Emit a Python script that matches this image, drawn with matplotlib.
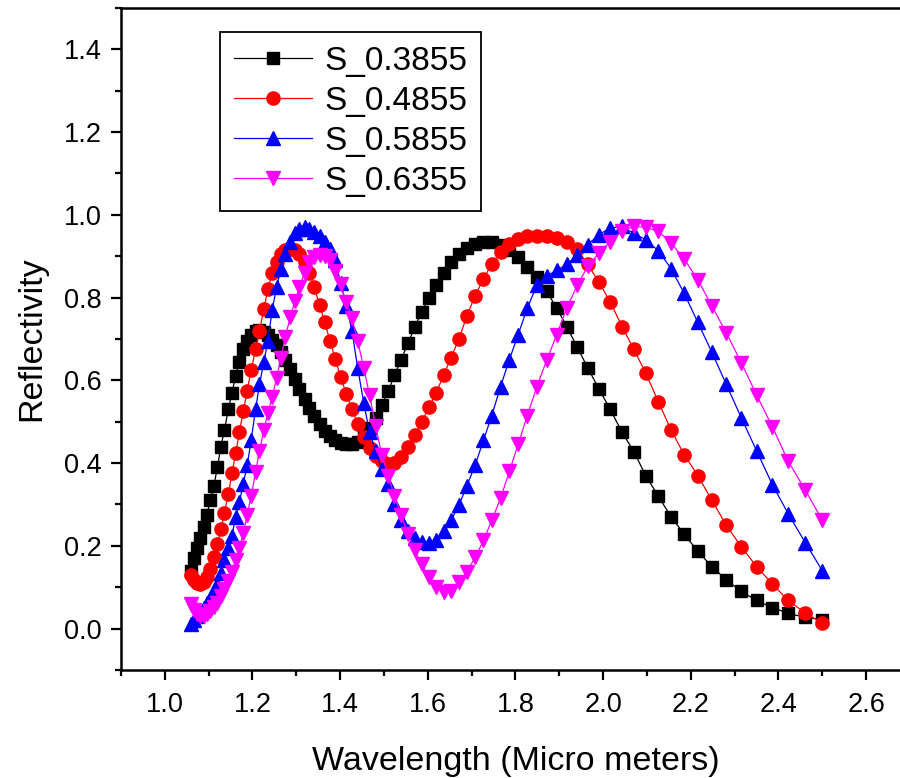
'''reflectividade x comprimento de onda para 4 estruturas'''

import numpy as np
import matplotlib
matplotlib.use('Agg')
import matplotlib.pyplot as plt
from matplotlib.ticker import MultipleLocator

plt.rcParams['font.family'] = ['Liberation Sans', 'DejaVu Sans']

# comprimento de onda (micrometros), comum as 4 curvas
wavelength = [
    1.059, 1.067, 1.074, 1.081, 1.089, 1.096, 1.104, 1.112, 1.120, 1.128,
    1.136, 1.145, 1.153, 1.162, 1.170, 1.179, 1.188, 1.197, 1.207, 1.216,
    1.226, 1.235, 1.245, 1.255, 1.265, 1.275, 1.286, 1.297, 1.307, 1.319,
    1.330, 1.341, 1.353, 1.365, 1.377, 1.389, 1.401, 1.414, 1.427, 1.440,
    1.454, 1.467, 1.481, 1.495, 1.510, 1.524, 1.539, 1.555, 1.570, 1.586,
    1.603, 1.619, 1.636, 1.653, 1.671, 1.689, 1.708, 1.727, 1.746, 1.766,
    1.786, 1.806, 1.827, 1.849, 1.871, 1.894, 1.917, 1.941, 1.965, 1.990,
    2.016, 2.043, 2.070, 2.097, 2.126, 2.155, 2.185, 2.216, 2.248, 2.281,
    2.315, 2.350, 2.386, 2.422, 2.461, 2.500,
]

s_03855 = [
    0.140, 0.170, 0.195, 0.220, 0.245, 0.275, 0.310, 0.345, 0.390, 0.440,
    0.480, 0.530, 0.570, 0.610, 0.645, 0.675, 0.695, 0.710, 0.720, 0.722,
    0.718, 0.710, 0.698, 0.685, 0.668, 0.650, 0.627, 0.603, 0.580, 0.555,
    0.533, 0.513, 0.495, 0.478, 0.465, 0.455, 0.448, 0.445, 0.446, 0.452,
    0.465, 0.485, 0.510, 0.540, 0.575, 0.612, 0.650, 0.690, 0.728, 0.765,
    0.800, 0.830, 0.860, 0.885, 0.905, 0.920, 0.930, 0.935, 0.935, 0.928,
    0.915, 0.897, 0.875, 0.850, 0.815, 0.775, 0.730, 0.680, 0.630, 0.580,
    0.530, 0.475, 0.428, 0.370, 0.320, 0.270, 0.228, 0.187, 0.150, 0.118,
    0.090, 0.068, 0.051, 0.037, 0.027, 0.022,
]

s_04855 = [
    0.130, 0.118, 0.110, 0.108, 0.112, 0.125, 0.145, 0.172, 0.205, 0.240,
    0.280, 0.325, 0.375, 0.425, 0.475, 0.525, 0.575, 0.625, 0.675, 0.720,
    0.772, 0.820, 0.860, 0.885, 0.905, 0.915, 0.918, 0.915, 0.905, 0.885,
    0.860, 0.825, 0.782, 0.740, 0.695, 0.652, 0.608, 0.568, 0.530, 0.495,
    0.462, 0.437, 0.418, 0.405, 0.398, 0.400, 0.415, 0.440, 0.468, 0.500,
    0.535, 0.570, 0.612, 0.655, 0.700, 0.755, 0.805, 0.845, 0.882, 0.910,
    0.930, 0.942, 0.948, 0.950, 0.950, 0.945, 0.935, 0.917, 0.880, 0.838,
    0.790, 0.730, 0.675, 0.618, 0.548, 0.480, 0.420, 0.370, 0.310, 0.250,
    0.198, 0.150, 0.108, 0.068, 0.038, 0.013,
]

s_05855 = [
    0.010, 0.020, 0.030, 0.040, 0.050, 0.062, 0.075, 0.090, 0.108, 0.135,
    0.165, 0.195, 0.225, 0.270, 0.305, 0.350, 0.395, 0.455, 0.530, 0.590,
    0.645, 0.695, 0.770, 0.825, 0.870, 0.905, 0.935, 0.955, 0.965, 0.970,
    0.965, 0.958, 0.948, 0.935, 0.918, 0.890, 0.835, 0.780, 0.720, 0.630,
    0.545, 0.475, 0.430, 0.385, 0.350, 0.300, 0.262, 0.235, 0.220, 0.210,
    0.207, 0.213, 0.235, 0.262, 0.298, 0.345, 0.395, 0.455, 0.515, 0.585,
    0.650, 0.710, 0.775, 0.830, 0.852, 0.866, 0.880, 0.903, 0.928, 0.952,
    0.968, 0.972, 0.955, 0.940, 0.913, 0.870, 0.810, 0.740, 0.668, 0.590,
    0.510, 0.430, 0.348, 0.278, 0.208, 0.140,
]

s_06355 = [
    0.060, 0.045, 0.035, 0.030, 0.030, 0.035, 0.043, 0.052, 0.063, 0.078,
    0.095, 0.115, 0.138, 0.165, 0.195, 0.230, 0.275, 0.320, 0.378, 0.430,
    0.480, 0.520, 0.560, 0.605, 0.655, 0.705, 0.752, 0.792, 0.825, 0.860,
    0.885, 0.898, 0.903, 0.900, 0.890, 0.865, 0.832, 0.790, 0.750, 0.695,
    0.630, 0.565, 0.490, 0.420, 0.370, 0.320, 0.275, 0.228, 0.190, 0.155,
    0.125, 0.100, 0.088, 0.090, 0.112, 0.138, 0.172, 0.213, 0.262, 0.315,
    0.380, 0.445, 0.515, 0.585, 0.648, 0.710, 0.775, 0.830, 0.876, 0.907,
    0.935, 0.960, 0.972, 0.970, 0.960, 0.932, 0.893, 0.843, 0.780, 0.715,
    0.643, 0.565, 0.488, 0.405, 0.335, 0.262,
]

labels = ['S_0.3855', 'S_0.4855', 'S_0.5855', 'S_0.6355']

fig = plt.figure(figsize=(9, 7.78), dpi=100)
# eixo passa da borda direita, como no original recortado
ax = fig.add_axes([0.1344, 0.1388, 0.8767, 0.851])

ax.plot(wavelength, s_03855, color='black', marker='s', ms=9, lw=0.9, label=labels[0])
ax.plot(wavelength, s_04855, color='red', marker='o', ms=9.5, lw=0.9, label=labels[1])
ax.plot(wavelength, s_05855, color='blue', marker='^', ms=10.5, lw=0.9, label=labels[2])
ax.plot(wavelength, s_06355, color='magenta', marker='v', ms=10.5, lw=0.9, label=labels[3])

ax.set_xlim(0.9, 2.7)
ax.set_ylim(-0.1, 1.5)
ax.xaxis.set_major_locator(MultipleLocator(0.2))
ax.xaxis.set_minor_locator(MultipleLocator(0.1))
ax.yaxis.set_major_locator(MultipleLocator(0.2))
ax.yaxis.set_minor_locator(MultipleLocator(0.1))
ax.xaxis.set_major_formatter(plt.FormatStrFormatter('%.1f'))
ax.yaxis.set_major_formatter(plt.FormatStrFormatter('%.1f'))

for s in ax.spines.values():
    s.set_linewidth(1.8)
ax.tick_params(which='both', direction='out', top=False, right=False, width=1.6)
ax.tick_params(which='major', length=7, labelsize=19.5, colors='black')
ax.tick_params(axis='x', which='major', pad=9)
ax.tick_params(axis='y', which='major', pad=7)
ax.tick_params(which='minor', length=4)

ax.set_xlabel('Wavelength (Micro meters)', fontsize=24.5, labelpad=20)
ax.set_ylabel('Reflectivity', fontsize=24.5, labelpad=12)

leg = ax.legend(loc='upper left', bbox_to_anchor=(0.1255, 0.9637), fontsize=24,
                numpoints=1, handlelength=2.35, handletextpad=0.35,
                labelspacing=0.27, borderpad=0.42, borderaxespad=0,
                fancybox=False, framealpha=1, edgecolor='black')
leg.get_frame().set_linewidth(1.3)

plt.savefig('out.png', dpi=100)
